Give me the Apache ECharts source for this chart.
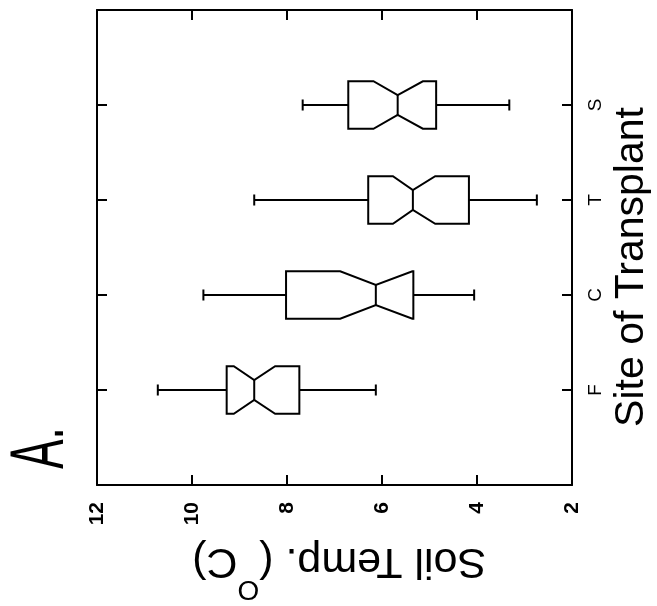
<!DOCTYPE html>
<html><head><meta charset="utf-8">
<script src="https://cdn.jsdelivr.net/npm/echarts@6/dist/echarts.min.js"></script>
<style>html,body{margin:0;padding:0;background:#fff}#c{width:657px;height:606px}</style>
</head><body><div id="c"></div>
<script>
// ---- data ----
const categories = ['F', 'C', 'T', 'S'];
const categoryPositions = [1, 2, 3, 4];
const whiskerHigh = [10.72, 9.76, 8.69, 7.67];
const q3 = [9.27, 8.02, 6.29, 6.71];
const notchHigh = [9.12, 6.88, 5.77, 6.18];
const median = [8.69, 6.13, 5.35, 5.67];
const notchLow = [8.25, 5.36, 4.88, 5.14];
const q1 = [7.74, 5.34, 4.17, 4.86];
const whiskerLow = [6.13, 4.06, 2.74, 3.32];
const tempTicks = [2, 4, 6, 8, 10, 12];

// ---- styles ----
const BOX_HALF = 0.25, NOTCH_HALF = 0.105, CAP_HALF = 0.058;
const LW = 2;
const FONT = '"Liberation Sans", Arial, sans-serif';

const seriesData = categories.map((_, i) => [categoryPositions[i], whiskerLow[i], q1[i], notchLow[i], median[i], notchHigh[i], q3[i], whiskerHigh[i]]);

function renderItem(params, api) {
  const c = api.value(0);
  const wl = api.value(1), a = api.value(2), nl = api.value(3), m = api.value(4),
        nh = api.value(5), b = api.value(6), wh = api.value(7);
  const unit = api.size([0, 1])[1];
  const hb = unit * BOX_HALF, hn = unit * NOTCH_HALF, hc = unit * CAP_HALF;
  const X = v => api.coord([v, c])[0];
  const cy = api.coord([m, c])[1];
  const st = { stroke: '#000', lineWidth: LW, fill: null };
  const pts = [
    [X(b), cy - hb], [X(nh), cy - hb], [X(m), cy - hn], [X(nl), cy - hb], [X(a), cy - hb],
    [X(a), cy + hb], [X(nl), cy + hb], [X(m), cy + hn], [X(nh), cy + hb], [X(b), cy + hb]
  ];
  const line = (x1, y1, x2, y2) => ({ type: 'line', shape: { x1, y1, x2, y2 }, style: st });
  return {
    type: 'group',
    children: [
      line(X(wh), cy, X(b), cy),
      line(X(a), cy, X(wl), cy),
      line(X(wh), cy - hc, X(wh), cy + hc),
      line(X(wl), cy - hc, X(wl), cy + hc),
      { type: 'polygon', shape: { points: pts }, style: { stroke: '#000', lineWidth: LW, fill: '#fff', lineJoin: 'miter' } },
      line(X(m), cy - hn, X(m), cy + hn)
    ]
  };
}

const tickStyle = { show: true, inside: true, length: 10, lineStyle: { color: '#000', width: LW } };
const lineStyle = { show: true, onZero: false, lineStyle: { color: '#000', width: LW } };

const chart = echarts.init(document.getElementById('c'), null, { renderer: 'canvas' });
chart.setOption({
  animation: false,
  backgroundColor: '#fff',
  grid: { left: 97, right: 85, top: 10, bottom: 121, outerBoundsMode: 'none', containLabel: false },
  xAxis: [
    { type: 'value', position: 'bottom', inverse: true, min: tempTicks[0], max: tempTicks[tempTicks.length - 1], interval: 2,
      axisLine: lineStyle, axisTick: tickStyle, splitLine: { show: false },
      axisLabel: { rotate: 90, margin: 17, color: '#000', fontSize: 21, fontWeight: 'bold', fontFamily: FONT,
        formatter: v => tempTicks.includes(v) ? String(v) : '' } },
    { type: 'value', position: 'top', inverse: true, min: tempTicks[0], max: tempTicks[tempTicks.length - 1], interval: 2,
      axisLine: lineStyle, axisTick: tickStyle, splitLine: { show: false }, axisLabel: { show: false } }
  ],
  yAxis: [
    { type: 'value', position: 'right', min: 0, max: 5, interval: 1,
      axisLine: lineStyle, axisTick: tickStyle, splitLine: { show: false },
      axisLabel: { rotate: 90, margin: 14, color: '#000', fontSize: 19, fontFamily: FONT,
        formatter: v => { const i = categoryPositions.indexOf(v); return i >= 0 ? categories[i] : ''; } } },
    { type: 'value', position: 'left', min: 0, max: 5, interval: 1,
      axisLine: lineStyle, axisTick: tickStyle, splitLine: { show: false }, axisLabel: { show: false } }
  ],
  series: [{
    type: 'custom', renderItem, data: seriesData, clip: false,
    encode: { x: [1, 2, 3, 4, 5, 6, 7], y: 0 }
  }],
  graphic: [
    { type: 'text', x: 632, y: 267, rotation: Math.PI / 2,
      style: { text: 'Site of Transplant', fontSize: 41, fontFamily: FONT, fill: '#000', align: 'center', verticalAlign: 'middle' } },
    { type: 'text', x: 339, y: 571, rotation: Math.PI,
      style: { text: '{a|Soil Temp. (}{s|O}{a|C)}{sp| }', fill: '#000', align: 'center', verticalAlign: 'middle',
        rich: {
          a: { fontSize: 43, fontFamily: FONT, lineHeight: 45, verticalAlign: 'bottom', fill: '#000' },
          s: { fontSize: 28, fontFamily: FONT, lineHeight: 30, verticalAlign: 'top', fill: '#000' },
          sp: { fontSize: 1, lineHeight: 63, verticalAlign: 'top' }
        } } },
    { type: 'text', x: 42, y: 448, rotation: Math.PI / 2, scaleX: 0.58,
      style: { text: 'A.', fontSize: 76, fontFamily: FONT, fill: '#000', align: 'center', verticalAlign: 'middle' } }
  ]
});
</script></body></html>
